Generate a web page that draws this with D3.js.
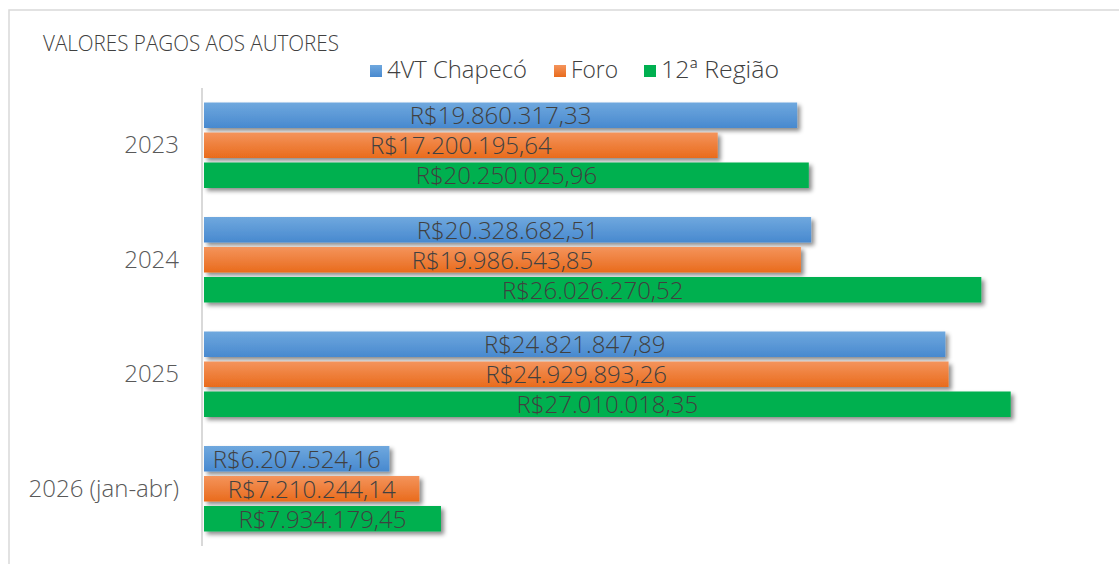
<!DOCTYPE html>
<html><head><meta charset="utf-8">
<script src="https://cdn.jsdelivr.net/npm/d3@7"></script>
<style>
html,body{margin:0;padding:0;background:#fff;}
svg{display:block;font-family:"Open Sans","Noto Sans",sans-serif;}
</style></head>
<body>
<svg id="chart" width="1119" height="564"></svg>
<script>
const categories = ["2023", "2024", "2025", "2026 (jan-abr)"];
const seriesNames = ["4VT Chapecó", "Foro", "12ª Região"];
const chapeco = [19860317.33, 20328682.51, 24821847.89, 6207524.16];
const foro = [17200195.64, 19986543.85, 24929893.26, 7210244.14];
const regiao12 = [20250025.96, 26026270.52, 27010018.35, 7934179.45];
const title = "VALORES PAGOS AOS AUTORES";

const seriesValues = [chapeco, foro, regiao12];
const fmt = v => "R$" + v.toLocaleString("pt-BR", {minimumFractionDigits: 2, maximumFractionDigits: 2});

const svg = d3.select("#chart");
const defs = svg.append("defs");
const grads = [
  ["gBlue", "#6fa8de", "#4889cf"],
  ["gOrange", "#f4945c", "#e96b1c"],
  ["gGreen", "#00b050", "#00b050"]
];
grads.forEach(([id, a, b]) => {
  const g = defs.append("linearGradient").attr("id", id).attr("x1", 0).attr("y1", 0).attr("x2", 0).attr("y2", 1);
  g.append("stop").attr("offset", "0%").attr("stop-color", a);
  g.append("stop").attr("offset", "100%").attr("stop-color", b);
});
const f = defs.append("filter").attr("id", "shadow").attr("x", "-5%").attr("y", "-30%").attr("width", "115%").attr("height", "180%");
f.append("feDropShadow").attr("dx", 3).attr("dy", 3).attr("stdDeviation", 2).attr("flood-color", "#000").attr("flood-opacity", 0.45);

// frame
svg.append("rect").attr("x", 9).attr("y", 10).attr("width", 1130).attr("height", 580)
  .attr("fill", "none").attr("stroke", "#d9d9d9").attr("stroke-width", 1.5);

const x = d3.scaleLinear().domain([0, 30000000]).range([204, 1100]);
const y = d3.scaleBand().domain(categories).range([88, 546]).padding(0);
const yInner = d3.scaleBand().domain(seriesNames).range([14.5, y.bandwidth() - 14.5]).paddingInner(0.15).paddingOuter(0);
const fills = ["url(#gBlue)", "url(#gOrange)", "url(#gGreen)"];

// title
svg.append("text").attr("x", 43).attr("y", 51).text(title)
  .attr("font-size", 22).attr("font-weight", 300).attr("fill", "#404040")
  .attr("textLength", 296).attr("lengthAdjust", "spacingAndGlyphs");

// legend
const legendX = [370, 554, 644];
const legendW = [140, 47, 118];
seriesNames.forEach((s, i) => {
  svg.append("rect").attr("x", legendX[i]).attr("y", 65).attr("width", 12).attr("height", 12).attr("fill", fills[i]);
  svg.append("text").attr("x", legendX[i] + 17).attr("y", 78).text(s)
    .attr("font-size", 23).attr("font-weight", 300).attr("fill", "#404040")
    .attr("textLength", legendW[i]).attr("lengthAdjust", "spacingAndGlyphs");
});

// axis line
svg.append("line").attr("x1", 202).attr("x2", 202).attr("y1", 88).attr("y2", 546)
  .attr("stroke", "#d9d9d9").attr("stroke-width", 2);

// category labels
const yAxis = d3.axisLeft(y).tickSize(0).tickPadding(0);
const ga = svg.append("g").attr("transform", "translate(179,0)").call(yAxis);
ga.select(".domain").remove();
ga.selectAll("text").attr("font-size", 24).attr("font-weight", 300).attr("fill", "#595959")
  .attr("font-family", "'Open Sans','Noto Sans',sans-serif").attr("dy", "0.33em");

// bars
categories.forEach((c, ci) => {
  seriesNames.forEach((s, si) => {
    const v = seriesValues[si][ci];
    const yy = y(c) + yInner(s);
    svg.append("rect").attr("x", x(0)).attr("y", yy)
      .attr("width", x(v) - x(0)).attr("height", yInner.bandwidth())
      .attr("fill", fills[si]).attr("filter", "url(#shadow)");
  });
});
categories.forEach((c, ci) => {
  seriesNames.forEach((s, si) => {
    const v = seriesValues[si][ci];
    const yy = y(c) + yInner(s);
    svg.append("text").attr("x", (x(0) + x(v)) / 2).attr("y", yy + yInner.bandwidth() / 2)
      .attr("dy", "0.38em").attr("text-anchor", "middle")
      .attr("font-size", 24).attr("font-weight", 300).attr("fill", "#404040").text(fmt(v));
  });
});
</script>
</body></html>
